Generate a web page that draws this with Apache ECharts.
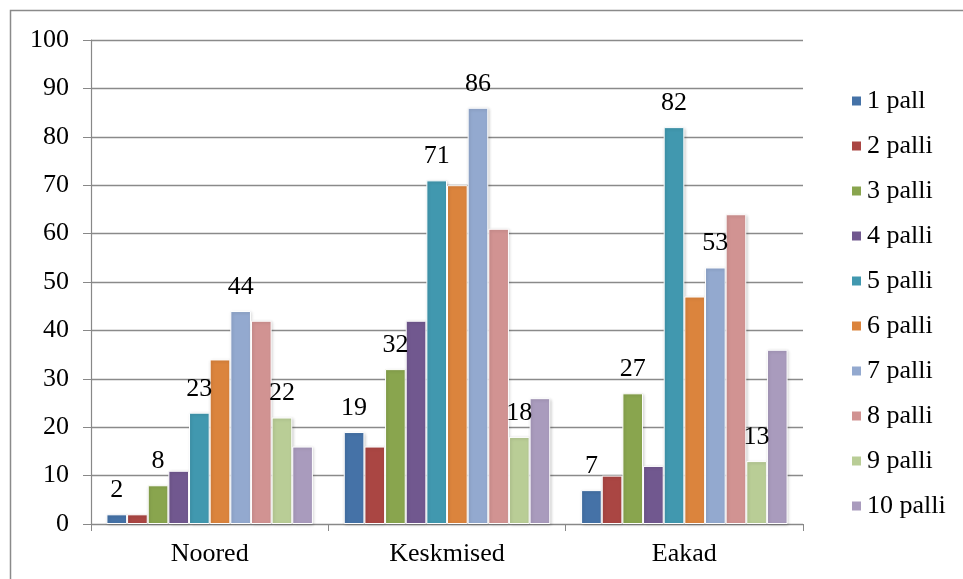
<!DOCTYPE html>
<html>
<head>
<meta charset="utf-8">
<script src="https://cdn.jsdelivr.net/npm/echarts@6/dist/echarts.min.js"></script>
<style>
  html, body { margin: 0; padding: 0; background: #fff; }
  #chart { width: 963px; height: 579px; }
</style>
</head>
<body>
<div id="chart"></div>
<script>
// Age groups on the category axis
const categories = ['Noored', 'Keskmised', 'Eakad'];

// Score names (legend entries)
const seriesNames = ['1 pall', '2 palli', '3 palli', '4 palli', '5 palli',
                     '6 palli', '7 palli', '8 palli', '9 palli', '10 palli'];

// Number of respondents per score, in category order
const pall1  = [2, 19, 7];
const palli2 = [2, 16, 10];
const palli3 = [8, 32, 27];
const palli4 = [11, 42, 12];
const palli5 = [23, 71, 82];
const palli6 = [34, 70, 47];
const palli7 = [44, 86, 53];
const palli8 = [42, 61, 64];
const palli9 = [22, 18, 13];
const palli10 = [16, 26, 36];

const seriesValues = [pall1, palli2, palli3, palli4, palli5,
                      palli6, palli7, palli8, palli9, palli10];

// Only these scores carry value labels
const labelledSeries = ['1 pall', '3 palli', '5 palli', '7 palli', '9 palli'];

// Value axis ticks
const yMin = 0, yMax = 100, yStep = 10;

const colors = ['#4572A7', '#AA4643', '#89A54E', '#71588F', '#4198AF',
                '#DB843D', '#93A9CF', '#D19392', '#B9CD96', '#A99BBD'];

const fontFamily = '"Liberation Serif", "Times New Roman", serif';
const fontSize = 26;

const chart = echarts.init(document.getElementById('chart'), null, { renderer: 'canvas' });

chart.setOption({
  animation: false,
  backgroundColor: '#fff',
  color: colors,
  textStyle: { fontFamily: fontFamily, color: '#000' },
  graphic: [{
    type: 'rect',
    shape: { x: 10.5, y: 10.5, width: 1200, height: 1200 },
    style: { fill: 'none', stroke: '#8a8a8a', lineWidth: 1.5 },
    silent: true
  }],
  grid: { left: 91, right: 160, top: 40, bottom: 55, containLabel: false },
  legend: {
    orient: 'vertical',
    left: 845,
    top: 83,
    icon: 'rect',
    itemWidth: 11,
    itemHeight: 11,
    itemGap: 19,
    data: seriesNames,
    textStyle: { fontFamily: fontFamily, fontSize: fontSize, lineHeight: 26, color: '#000' }
  },
  xAxis: {
    type: 'category',
    data: categories,
    axisLine: { lineStyle: { color: '#888', width: 1.2 } },
    axisTick: { show: true, length: 7, lineStyle: { color: '#888' } },
    axisLabel: { fontFamily: fontFamily, fontSize: fontSize, color: '#000', margin: 17 },
    splitLine: { show: false }
  },
  yAxis: {
    type: 'value',
    min: yMin,
    max: yMax,
    interval: yStep,
    axisLine: { show: true, lineStyle: { color: '#888', width: 1.2 } },
    axisTick: { show: true, length: 8, lineStyle: { color: '#888' } },
    axisLabel: { fontFamily: fontFamily, fontSize: fontSize, color: '#000', margin: 22 },
    splitLine: { show: true, lineStyle: { color: '#8a8a8a', width: 1.4 } }
  },
  series: seriesNames.map((name, i) => ({
    name: name,
    type: 'bar',
    data: seriesValues[i],
    barGap: '0%',
    barCategoryGap: '13%',
    itemStyle: {
      color: colors[i],
      borderColor: '#fff',
      borderWidth: 1,
      shadowColor: 'rgba(0,0,0,0.18)',
      shadowBlur: 3,
      shadowOffsetX: 1,
      shadowOffsetY: 1
    },
    label: {
      show: labelledSeries.includes(name),
      position: 'top',
      distance: 11,
      fontFamily: fontFamily,
      fontSize: fontSize,
      color: '#000'
    }
  }))
});
</script>
</body>
</html>
